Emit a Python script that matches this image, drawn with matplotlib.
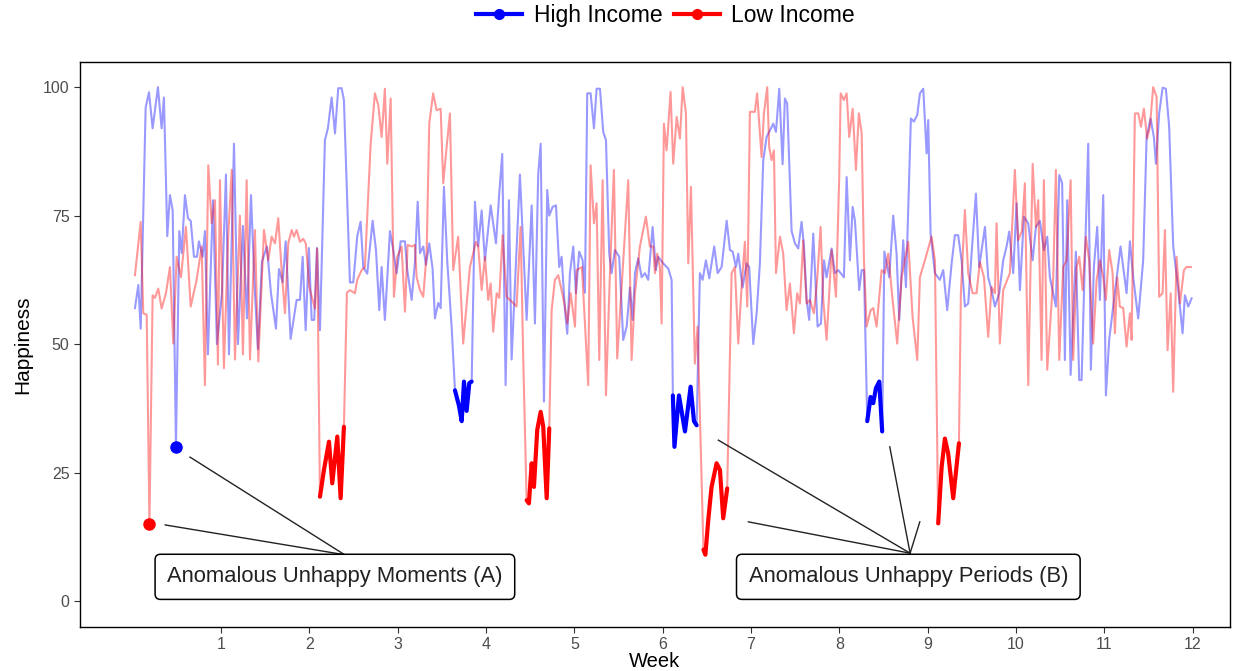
import matplotlib
matplotlib.use("Agg")
import matplotlib.pyplot as plt
from matplotlib.lines import Line2D

# weekly happiness traces (x = week, y = happiness score)
high_week = [0.027, 0.065, 0.092, 0.148, 0.186, 0.227, 0.287, 0.329, 0.355, 0.393, 0.423, 0.454,
             0.491, 0.529, 0.556, 0.593, 0.627, 0.658, 0.695, 0.729, 0.751, 0.793, 0.819, 0.853,
             0.910, 0.955, 1.012, 1.057, 1.091, 1.148, 1.193, 1.249, 1.295, 1.340, 1.385, 1.419,
             1.464, 1.521, 1.566, 1.623, 1.657, 1.699, 1.733, 1.789, 1.857, 1.895, 1.925, 1.959,
             1.996, 2.027, 2.056, 2.087, 2.121, 2.177, 2.211, 2.253, 2.291, 2.328, 2.366, 2.392,
             2.460, 2.498, 2.543, 2.581, 2.611, 2.656, 2.717, 2.755, 2.792, 2.819, 2.856, 2.913,
             2.944, 2.989, 3.034, 3.083, 3.109, 3.159, 3.196, 3.227, 3.253, 3.290, 3.320, 3.358,
             3.396, 3.422, 3.460, 3.487, 3.524, 3.562, 3.611, 3.649, 3.694, 3.725, 3.751, 3.781,
             3.811, 3.838, 3.875, 3.912, 3.951, 3.988, 4.053, 4.113, 4.150, 4.184, 4.222, 4.260,
             4.290, 4.384, 4.460, 4.517, 4.554, 4.591, 4.619, 4.656, 4.693, 4.716, 4.754, 4.792,
             4.829, 4.856, 4.894, 4.920, 4.950, 4.988, 5.018, 5.055, 5.094, 5.120, 5.146, 5.184,
             5.222, 5.252, 5.290, 5.327, 5.358, 5.395, 5.422, 5.459, 5.508, 5.553, 5.592, 5.629,
             5.660, 5.686, 5.723, 5.762, 5.799, 5.836, 5.886, 5.923, 5.949, 6.006, 6.063, 6.101,
             6.115, 6.133, 6.184, 6.252, 6.316, 6.354, 6.384, 6.421, 6.452, 6.489, 6.527, 6.583,
             6.622, 6.667, 6.724, 6.761, 6.792, 6.829, 6.855, 6.904, 6.950, 6.979, 7.025, 7.063,
             7.100, 7.138, 7.176, 7.214, 7.251, 7.282, 7.319, 7.357, 7.383, 7.409, 7.459, 7.497,
             7.534, 7.572, 7.598, 7.629, 7.658, 7.704, 7.753, 7.791, 7.825, 7.855, 7.912, 7.949,
             7.987, 8.051, 8.082, 8.119, 8.150, 8.176, 8.224, 8.252, 8.278, 8.315, 8.353, 8.383,
             8.413, 8.451, 8.484, 8.509, 8.564, 8.609, 8.647, 8.677, 8.722, 8.753, 8.809, 8.843,
             8.881, 8.911, 8.949, 8.987, 9.005, 9.032, 9.081, 9.137, 9.175, 9.220, 9.270, 9.307,
             9.344, 9.383, 9.420, 9.458, 9.496, 9.545, 9.582, 9.647, 9.684, 9.722, 9.760, 9.809,
             9.854, 9.892, 9.922, 9.967, 10.005, 10.043, 10.088, 10.137, 10.187, 10.224, 10.269,
             10.314, 10.352, 10.382, 10.450, 10.488, 10.521, 10.552, 10.578, 10.617, 10.676,
             10.714, 10.741, 10.778, 10.816, 10.846, 10.880, 10.918, 10.948, 10.986, 11.016,
             11.053, 11.080, 11.144, 11.182, 11.250, 11.288, 11.325, 11.382, 11.438, 11.477,
             11.522, 11.559, 11.582, 11.619, 11.658, 11.695, 11.732, 11.778, 11.823, 11.854,
             11.884, 11.910, 11.948, 11.986]
high_val = [57, 61.5, 53, 96, 99, 92, 100, 92, 98, 71, 79, 76,
            30, 72, 67.7, 79, 74.5, 74, 67, 67, 70, 67, 72, 48,
            78, 50, 60, 83, 48, 89, 50, 73, 55, 79, 60, 49,
            66, 69, 60, 53, 64.6, 62, 70, 51, 58.6, 58.6, 67, 52.7,
            68.7, 54.7, 54.7, 68.7, 52.7, 89.7, 92, 98, 91, 99.8, 99.8, 97.5,
            62, 62, 71, 73.8, 65, 63.7, 74, 68.3, 56.6, 65, 54.7, 72,
            69, 63.8, 70, 70, 64.4, 58.6, 66, 77.7, 67.7, 69, 65.4, 69.6,
            64.6, 55, 58, 57, 80.6, 66, 53.4, 41, 38, 35, 42.7, 37,
            42.4, 42.7, 77.7, 69, 76, 66.3, 77, 69.6, 79.3, 87, 42, 78,
            47, 83, 54.7, 77, 54, 83, 89, 38.8, 80, 75, 76.7, 77,
            65, 67, 56.6, 52, 63.8, 69, 59.9, 68, 66.3, 60, 98.8, 98.8,
            92, 99.7, 99.7, 91.3, 89.7, 67.6, 63.8, 68.3, 67, 50.8, 53.4, 61,
            54.7, 63.8, 66.7, 63, 63.8, 62.5, 72.8, 64.4, 67, 65.7, 64.7, 62.5,
            40, 30, 40, 33, 41.7, 35, 34.2, 63.8, 62.5, 66.3, 62.8, 69,
            63.8, 65, 74, 68.3, 68, 65, 67.6, 61, 65.7, 65, 50, 56,
            65.7, 85.8, 90.3, 91.6, 92.9, 91.3, 99.7, 85, 97.8, 96.8, 72, 69.6,
            68.6, 73.8, 69.3, 58.6, 54.7, 71.5, 53.4, 54, 66.3, 63, 68.6, 63.8,
            64.4, 63, 82.5, 66.3, 76.7, 74, 60.5, 64.4, 64.4, 35, 39.7, 38.5,
            41.4, 42.7, 33, 68, 63, 75, 67.6, 54.7, 70.2, 61.1, 93.9, 93.3,
            94.6, 98.8, 99.7, 87.1, 93.6, 71.5, 63.8, 62.5, 64.4, 56.6, 65.7, 71.2,
            71.2, 66.3, 57.3, 57.9, 67.6, 79.3, 65, 72.8, 63, 60.5, 57.3, 59.9,
            66.3, 69, 71.9, 63.8, 77.4, 60.5, 74.8, 73.5, 66.3, 72.8, 74,
            68.3, 70.9, 63, 57.3, 82.9, 81.3, 46.9, 78, 44, 68,
            43, 43, 66.3, 89, 45, 65, 72.8, 58.6, 79, 40,
            50.8, 54.7, 63.8, 69, 59.9, 70, 63, 55, 66.3, 90.3,
            93.9, 90.3, 85.1, 94.9, 99.9, 99.7, 92.3, 69, 62.5, 57.3,
            52.1, 59.5, 57.3, 58.9]

low_week = [0.027, 0.092, 0.121, 0.160, 0.191, 0.227, 0.254, 0.291, 0.329, 0.378, 0.423, 0.461,
            0.499, 0.548, 0.604, 0.658, 0.725, 0.782, 0.819, 0.857, 0.895, 0.933, 0.966, 0.989,
            1.034, 1.080, 1.122, 1.159, 1.215, 1.249, 1.291, 1.329, 1.385, 1.423, 1.487, 1.536,
            1.574, 1.612, 1.649, 1.687, 1.725, 1.762, 1.801, 1.827, 1.857, 1.895, 1.932, 1.962,
            2.000, 2.038, 2.064, 2.090, 2.121, 2.166, 2.223, 2.260, 2.317, 2.355, 2.392, 2.426,
            2.460, 2.517, 2.543, 2.593, 2.630, 2.661, 2.695, 2.743, 2.781, 2.819, 2.856, 2.883,
            2.921, 2.958, 2.996, 3.045, 3.083, 3.113, 3.159, 3.196, 3.215, 3.253, 3.290, 3.328,
            3.358, 3.402, 3.441, 3.487, 3.516, 3.555, 3.592, 3.629, 3.685, 3.742, 3.818, 3.886,
            3.912, 3.951, 3.988, 4.025, 4.053, 4.082, 4.121, 4.150, 4.188, 4.233, 4.271, 4.308,
            4.346, 4.392, 4.422, 4.460, 4.486, 4.517, 4.543, 4.580, 4.619, 4.648, 4.687, 4.716,
            4.743, 4.780, 4.818, 4.856, 4.894, 4.920, 4.958, 5.007, 5.026, 5.086, 5.157, 5.184,
            5.222, 5.252, 5.282, 5.320, 5.358, 5.403, 5.448, 5.485, 5.535, 5.573, 5.610, 5.648,
            5.686, 5.742, 5.810, 5.855, 5.893, 5.912, 5.938, 5.968, 5.988, 6.014, 6.044, 6.089,
            6.119, 6.158, 6.195, 6.226, 6.263, 6.289, 6.320, 6.364, 6.395, 6.461, 6.483, 6.517,
            6.553, 6.610, 6.648, 6.685, 6.730, 6.780, 6.817, 6.855, 6.893, 6.930, 6.957, 6.987,
            7.043, 7.069, 7.119, 7.146, 7.183, 7.205, 7.232, 7.259, 7.282, 7.327, 7.364, 7.402,
            7.440, 7.485, 7.522, 7.553, 7.590, 7.629, 7.666, 7.711, 7.746, 7.787, 7.817, 7.855,
            7.912, 7.961, 7.998, 8.014, 8.051, 8.082, 8.111, 8.150, 8.187, 8.220, 8.252, 8.278,
            8.308, 8.353, 8.383, 8.421, 8.478, 8.515, 8.552, 8.602, 8.654, 8.704, 8.779, 8.828,
            8.881, 8.911, 8.979, 9.043, 9.081, 9.118, 9.157, 9.194, 9.231, 9.288, 9.353, 9.375,
            9.420, 9.458, 9.507, 9.552, 9.590, 9.636, 9.684, 9.722, 9.760, 9.779, 9.816, 9.854,
            9.929, 9.986, 10.023, 10.065, 10.099, 10.137, 10.187, 10.224, 10.250, 10.288, 10.314,
            10.352, 10.420, 10.450, 10.488, 10.533, 10.571, 10.617, 10.646, 10.684, 10.714,
            10.752, 10.789, 10.827, 10.872, 10.911, 10.948, 10.986, 11.016, 11.053, 11.092,
            11.118, 11.144, 11.174, 11.212, 11.250, 11.288, 11.307, 11.344, 11.382, 11.413,
            11.446, 11.483, 11.514, 11.551, 11.590, 11.619, 11.658, 11.684, 11.714, 11.749,
            11.778, 11.816, 11.854, 11.899, 11.929, 11.978]
low_val = [63.4, 73.8, 56, 55.7, 15, 59.5, 59, 60.8, 56.9, 59.9, 65, 50.1,
           67, 63, 72.8, 57.3, 62.5, 69, 42, 84.8, 73.5, 78, 46, 81.9,
           45.3, 70, 83.9, 47, 75, 48, 81.9, 47, 72.2, 46.6, 72.2, 66.3,
           70.9, 69.6, 74.5, 64.4, 56, 69.6, 72.2, 70.9, 72.2, 69.9, 70.5, 69.5,
           61.1, 58.6, 56.9, 68.6, 20.3, 25.5, 31, 22.9, 32, 20, 33.9, 60,
           60.5, 59.9, 62.5, 64.4, 65, 76.7, 89, 98.8, 96.5, 90.3, 99.7, 85.1,
           97.8, 59.2, 67, 69, 56.3, 69.3, 69, 69.3, 63, 60.5, 59.2, 67.6,
           92.9, 98.8, 95.5, 95.8, 81.3, 88.4, 94.9, 64.4, 70.9, 50.1, 65, 69.9,
           69, 60.5, 67, 58.6, 61.8, 52.4, 59.9, 59, 71.2, 59.2, 58.6, 58,
           57.3, 72.8, 46.9, 19.6, 19, 26.8, 22.2, 33.3, 36.8, 33.9, 20, 33.6,
           56.6, 62.5, 63.4, 60.5, 57.3, 54, 59.9, 53.4, 64.4, 65, 42, 84.8,
           73.5, 77.4, 46.9, 81.9, 40, 63.8, 83.9, 47.2, 61.1, 71.5, 81.9, 46.9,
           59.9, 69, 74.8, 69, 69, 63.8, 67.6, 65, 54, 92.9, 87.7, 99.1,
           85.1, 94.2, 90, 100, 94.9, 65.7, 80.6, 46.2, 53.4, 10, 9, 16,
           22.2, 26.8, 25.5, 16.1, 21.9, 63.8, 65, 50.1, 61.1, 69.9, 57.3, 95.2,
           95.2, 98.8, 86.4, 94.9, 100, 88.4, 85.8, 87.7, 63.8, 70.9, 67.6, 56.6,
           61.8, 52.1, 59.9, 57.9, 70.2, 57.9, 58.6, 56, 62, 72.8, 58.6, 50.8,
           68.3, 59.2, 82.5, 98.8, 97.5, 98.8, 90.3, 95.8, 83.9, 94.9, 91, 66.3,
           53.4, 56.6, 57, 53.4, 64.4, 63.8, 67.6, 58.6, 50.1, 63, 69.9, 55.3,
           46.9, 63, 67, 70.9, 66.3, 15.1, 26.1, 31.6, 28.7, 20, 30.7, 60,
           76.1, 63.8, 59.9, 59.9, 66, 63, 51.4, 61.1, 59.9, 73.5, 50.1, 60.5,
           63.8, 83.9, 70.2, 72, 81.3, 42, 85.1, 72.8, 78, 46.9, 81.9,
           45, 63, 83.9, 46.9, 65, 66.3, 81.9, 46.9, 65, 67,
           60.5, 70.9, 66.3, 50.1, 62.5, 66.3, 63, 58.6, 68.3, 63.8,
           52.1, 63, 57.3, 57, 49.5, 56, 50.8, 94.9, 94.9, 92.3,
           95.8, 90, 92.3, 100, 98.1, 59.2, 59.9, 72.2, 48.8, 59.9,
           40.7, 67, 57.9, 64.4, 65, 65]

# flagged stretches: (first week, last week)
high_periods = [(3.649, 3.838), (6.115, 6.384), (8.315, 8.484)]
low_periods = [(2.121, 2.392), (4.460, 4.716), (6.461, 6.730), (9.118, 9.353)]
high_moment = (0.491, 30)
low_moment = (0.191, 15)

blue = "#0000ff"
red = "#ff0000"

plt.rcParams["font.family"] = ["Liberation Sans", "DejaVu Sans"]

fig = plt.figure(figsize=(12.44, 6.71), dpi=100)
ax = fig.add_axes([0.0643, 0.0656, 0.9244, 0.842])

ax.plot(high_week, high_val, color=blue, alpha=0.4, lw=1.5, zorder=2)
ax.plot(low_week, low_val, color=red, alpha=0.4, lw=1.5, zorder=2)


def highlight(weeks, vals, periods, color):
    for a, b in periods:
        xs = [w for w in weeks if a - 1e-6 <= w <= b + 1e-6]
        ys = [v for w, v in zip(weeks, vals) if a - 1e-6 <= w <= b + 1e-6]
        ax.plot(xs, ys, color=color, lw=3, solid_capstyle="round", zorder=4)


highlight(high_week, high_val, high_periods, blue)
highlight(low_week, low_val, low_periods, red)

ax.plot(*high_moment, "o", color=blue, ms=8, zorder=5)
ax.plot(*low_moment, "o", color=red, ms=8, zorder=5)

# callout boxes and pointer segments
box = dict(boxstyle="round,pad=0.55,rounding_size=0.25", fc="white", ec="black", lw=1.1)
ax.text(2.29, 4.7, "Anomalous Unhappy Moments (A)", ha="center", va="center",
        fontsize=15.8, color="#222222", bbox=box, zorder=6)
ax.text(8.78, 4.7, "Anomalous Unhappy Periods (B)", ha="center", va="center",
        fontsize=15.8, color="#222222", bbox=box, zorder=6)

seg_kw = dict(color="#222222", lw=1.0, zorder=3)
for tx, ty in [(0.65, 28), (0.37, 14.8)]:
    ax.plot([2.40, tx], [9.0, ty], **seg_kw)
for tx, ty in [(6.63, 31.3), (6.97, 15.4), (8.57, 30), (8.91, 15.4)]:
    ax.plot([8.80, tx], [9.3, ty], **seg_kw)

ax.set_xlim(-0.595, 12.42)
ax.set_ylim(-5.06, 104.9)
ax.set_xticks(range(1, 13))
ax.set_yticks([0, 25, 50, 75, 100])
ax.tick_params(colors="#333333", labelsize=11.5, length=4, width=0.8, labelcolor="#4d4d4d")
for s in ax.spines.values():
    s.set_color("black")
    s.set_linewidth(1.0)

ax.set_xlabel("Week", fontsize=14.5, labelpad=0)
ax.set_ylabel("Happiness", fontsize=15, labelpad=8)

handles = [Line2D([], [], color=blue, lw=3, marker="o", ms=7),
           Line2D([], [], color=red, lw=3, marker="o", ms=7)]
fig.legend(handles, ["High Income", "Low Income"], loc="center",
           bbox_to_anchor=(0.535, 0.977), ncol=2, frameon=False, fontsize=16.5,
           handlelength=2.0, handletextpad=0.5, columnspacing=0.5)

fig.savefig("out.png", dpi=100)
